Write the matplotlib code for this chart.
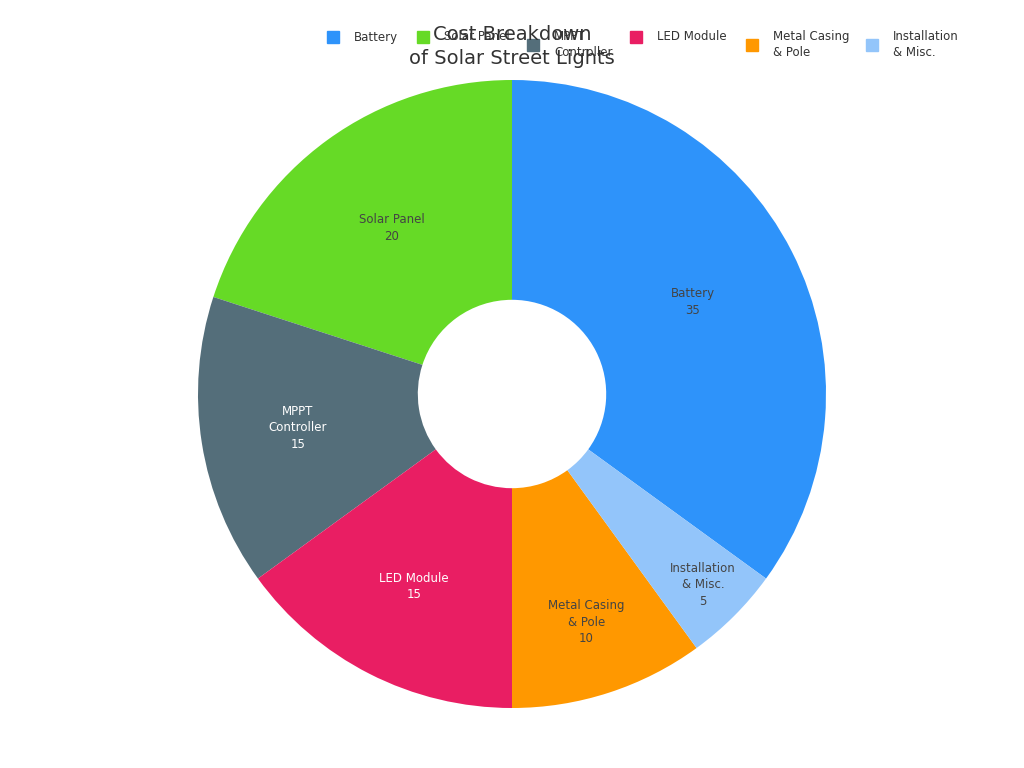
import matplotlib.pyplot as plt
from matplotlib.lines import Line2D
import numpy as np

# Chart data
categories = ["Battery", "Solar Panel", "MPPT\nController", "LED Module",
              "Metal Casing\n& Pole", "Installation\n& Misc."]
costs = [35, 20, 15, 15, 10, 5]
colors = ["#2E93FA", "#66DA26", "#546E7A", "#E91E63", "#FF9800", "#93C5FA"]
label_colors = ["#444444", "#444444", "white", "white", "#444444", "#444444"]

# label distance from centre (fraction of outer radius), per slice
label_radii = [0.647, 0.653, 0.69, 0.688, 0.764, 0.86]

W, H = 1024, 768
fig = plt.figure(figsize=(W / 100, H / 100), dpi=100)
# square axes so that radius 1 -> ~314 px, centred at (512, 394)
ax = fig.add_axes([198 / W, 60 / H, 628 / W, 628 / H])

wedges, texts = ax.pie(
    costs,
    colors=colors,
    startangle=-36,
    counterclock=True,
    radius=1.0,
    wedgeprops=dict(width=0.7, linewidth=0),
)
ax.set_xlim(-1, 1)
ax.set_ylim(-1, 1)
ax.set_aspect("equal")
ax.axis("off")

# labels inside each ring segment
for w, cat, val, tc, r in zip(wedges, categories, costs, label_colors, label_radii):
    ang = np.deg2rad((w.theta1 + w.theta2) / 2)
    ax.text(r * np.cos(ang), r * np.sin(ang), f"{cat}\n{val}",
            ha="center", va="center", fontsize=8.5, color=tc,
            linespacing=1.35)

# legend across the top (first lines aligned, markers centred on each entry)
marker_x = [333, 423, 533, 636, 752, 872]
for mx, cat, c in zip(marker_x, categories, colors):
    n = cat.count("\n") + 1
    cy = 37 + (n - 1) * 7.5
    fig.add_artist(Line2D([mx / W], [1 - cy / H], marker="s", markersize=8,
                          linestyle="none", markerfacecolor=c, markeredgecolor=c,
                          transform=fig.transFigure))
    fig.text((mx + 21) / W, 1 - cy / H, cat, ha="left", va="center",
             fontsize=8.5, color="#333333", linespacing=1.3)

fig.text(0.5, 1 - 46.5 / H, "Cost Breakdown\nof Solar Street Lights",
         ha="center", va="center", fontsize=14, color="#333333", linespacing=1.3)

fig.savefig("out.png", dpi=100, facecolor="white")
